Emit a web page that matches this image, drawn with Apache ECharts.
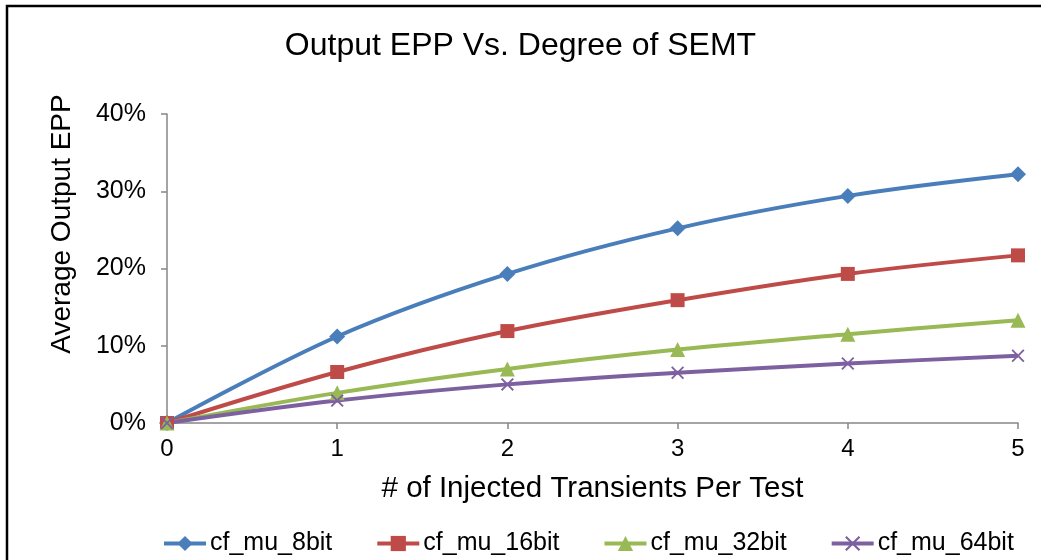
<!DOCTYPE html>
<html>
<head>
<meta charset="utf-8">
<script src="https://cdn.jsdelivr.net/npm/echarts@6/dist/echarts.min.js"></script>
<style>
  html, body { margin: 0; padding: 0; background: #fff; }
  #chart { width: 1041px; height: 560px; }
</style>
</head>
<body>
<div id="chart"></div>
<script>
// x: number of injected transients per test
const transients = [0, 1, 2, 3, 4, 5]
// average output EPP (%)
const mu8 = [0, 11.2, 19.3, 25.2, 29.4, 32.2]
const mu16 = [0, 6.6, 11.9, 15.9, 19.3, 21.7]
const mu32 = [0, 3.9, 7.0, 9.5, 11.5, 13.3]
const mu64 = [0, 2.9, 5.0, 6.5, 7.7, 8.7]
const yTicks = [0, 10, 20, 30, 40]

const font = 'Liberation Sans, Arial, sans-serif'
const xMark = 'path://M2,0L10,8L18,0L20,2L12,10L20,18L18,20L10,12L2,20L0,18L8,10L0,2Z'

const chart = echarts.init(document.getElementById('chart'))

const mk = (name, data, color, symbol, size) => ({
  name,
  type: 'line',
  data: transients.map((x, i) => [x, data[i]]),
  smooth: 0.35,
  symbol,
  symbolSize: size,
  showSymbol: true,
  lineStyle: { width: 4, color },
  itemStyle: { color },
  z: 2
})

chart.setOption({
  animation: false,
  textStyle: { fontFamily: font },
  title: {
    text: 'Output EPP Vs. Degree of SEMT',
    left: 'center',
    top: 25,
    textStyle: { fontFamily: font, fontSize: 32, fontWeight: 'normal', color: '#000' }
  },
  legend: {
    top: 526,
    left: 157,
    itemWidth: 42,
    itemHeight: 19,
    itemGap: 43,
    lineStyle: { width: 4 },
    textStyle: { fontFamily: font, fontSize: 25, color: '#000', padding: [0, 0, 0, -1] },
    data: ['cf_mu_8bit', 'cf_mu_16bit', 'cf_mu_32bit', 'cf_mu_64bit']
  },
  grid: { left: 167, right: 23, top: 114, bottom: 137 },
  xAxis: {
    type: 'value',
    min: 0,
    max: 5,
    interval: 1,
    name: '# of Injected Transients Per Test',
    nameLocation: 'middle',
    nameGap: 51,
    nameTextStyle: { fontFamily: font, fontSize: 29.5, color: '#000' },
    axisLine: { lineStyle: { color: '#868686', width: 1.5 } },
    axisTick: { show: true, length: 6, lineStyle: { color: '#868686', width: 1.5 } },
    axisLabel: { fontSize: 24, color: '#000', margin: 14 },
    splitLine: { show: false }
  },
  yAxis: {
    type: 'value',
    min: yTicks[0],
    max: yTicks[yTicks.length - 1],
    interval: 10,
    axisLine: { show: true, lineStyle: { color: '#868686', width: 1.5 } },
    axisTick: { show: true, length: 6, lineStyle: { color: '#868686', width: 1.5 } },
    axisLabel: { fontSize: 25, color: '#000', margin: 21, formatter: '{value}%' },
    splitLine: { show: false }
  },
  graphic: [
    {
      type: 'rect',
      shape: { x: 7, y: 6, width: 1100, height: 700 },
      style: { fill: 'none', stroke: '#000', lineWidth: 2.5 },
      silent: true
    },
    {
      type: 'text',
      x: 62,
      y: 224,
      rotation: Math.PI / 2,
      style: {
        text: 'Average Output EPP',
        fontFamily: font,
        fontSize: 28,
        fill: '#000',
        align: 'center',
        verticalAlign: 'middle'
      }
    }
  ],
  series: [
    mk('cf_mu_8bit', mu8, '#4A7EBB', 'diamond', 16),
    mk('cf_mu_16bit', mu16, '#BE4B48', 'rect', 14),
    mk('cf_mu_32bit', mu32, '#98B954', 'triangle', 15),
    mk('cf_mu_64bit', mu64, '#7D60A0', xMark, 13)
  ]
})
</script>
</body>
</html>
